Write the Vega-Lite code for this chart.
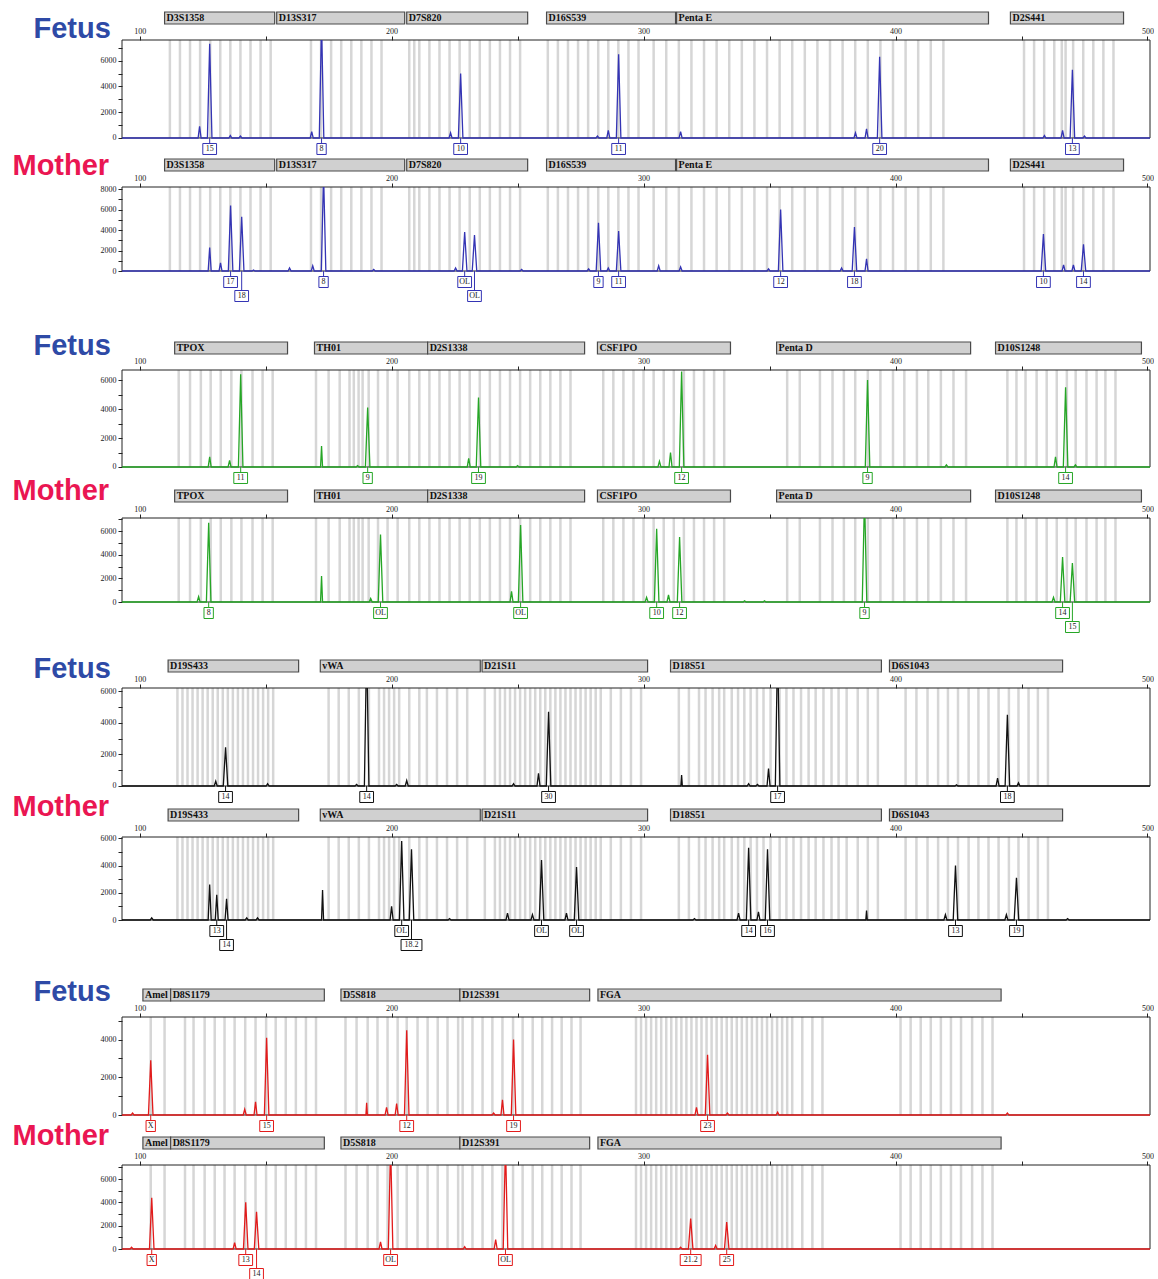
{
  "$schema": "https://vega.github.io/schema/vega-lite/v6.json",
  "background": "white",
  "padding": {"left": 12, "top": 11, "right": 0, "bottom": 0},
  "config": {"view": {"stroke": null}, "axis": {"labelOverlap": false, "labelFlush": false}},
  "spacing": 16,
  "bounds": "flush",
  "datasets": {
    "loci": [
      {"d": "B", "n": "D3S1358", "a": 109.9, "b": 153.6},
      {"d": "B", "n": "D13S317", "a": 154.4, "b": 205.2},
      {"d": "B", "n": "D7S820", "a": 206, "b": 254},
      {"d": "B", "n": "D16S539", "a": 261.5, "b": 312.7},
      {"d": "B", "n": "Penta E", "a": 313.1, "b": 436.9},
      {"d": "B", "n": "D2S441", "a": 445.6, "b": 490.5},
      {"d": "G", "n": "TPOX", "a": 113.9, "b": 158.7},
      {"d": "G", "n": "TH01", "a": 169.4, "b": 214.3},
      {"d": "G", "n": "D2S1338", "a": 214.3, "b": 276.6},
      {"d": "G", "n": "CSF1PO", "a": 281.7, "b": 334.5},
      {"d": "G", "n": "Penta D", "a": 352.8, "b": 429.8},
      {"d": "G", "n": "D10S1248", "a": 439.7, "b": 497.6},
      {"d": "K", "n": "D19S433", "a": 111.3, "b": 163.1},
      {"d": "K", "n": "vWA", "a": 171.7, "b": 235.2},
      {"d": "K", "n": "D21S11", "a": 235.9, "b": 301.6},
      {"d": "K", "n": "D18S51", "a": 310.7, "b": 394.4},
      {"d": "K", "n": "D6S1043", "a": 397.6, "b": 466.3},
      {"d": "R", "n": "Amel", "a": 101.3, "b": 112.3},
      {"d": "R", "n": "D8S1179", "a": 112.3, "b": 173.3},
      {"d": "R", "n": "D5S818", "a": 179.9, "b": 227.1},
      {"d": "R", "n": "D12S391", "a": 227.1, "b": 278.6},
      {"d": "R", "n": "FGA", "a": 281.9, "b": 441.9}
    ],
    "bins": [
      {"d":"B","x":112},{"d":"B","x":116},{"d":"B","x":120},{"d":"B","x":124},{"d":"B","x":128},{"d":"B","x":132},{"d":"B","x":136},{"d":"B","x":140},{"d":"B","x":144},{"d":"B","x":148},{"d":"B","x":152},
      {"d":"B","x":168},{"d":"B","x":172},{"d":"B","x":176},{"d":"B","x":180},{"d":"B","x":184},{"d":"B","x":188},{"d":"B","x":192},{"d":"B","x":196},
      {"d":"B","x":207},{"d":"B","x":209},{"d":"B","x":211},{"d":"B","x":215},{"d":"B","x":219},{"d":"B","x":223},{"d":"B","x":227},{"d":"B","x":231},{"d":"B","x":235},{"d":"B","x":239},{"d":"B","x":243},{"d":"B","x":247},{"d":"B","x":251},
      {"d":"B","x":262},{"d":"B","x":266},{"d":"B","x":270},{"d":"B","x":274},{"d":"B","x":278},{"d":"B","x":282},{"d":"B","x":286},{"d":"B","x":290},{"d":"B","x":294},{"d":"B","x":298},
      {"d":"B","x":304},{"d":"B","x":309},{"d":"B","x":314},{"d":"B","x":319},{"d":"B","x":324},{"d":"B","x":329},{"d":"B","x":334},{"d":"B","x":339},{"d":"B","x":344},{"d":"B","x":349},{"d":"B","x":354},{"d":"B","x":359},{"d":"B","x":364},{"d":"B","x":369},{"d":"B","x":374},{"d":"B","x":379},{"d":"B","x":384},{"d":"B","x":389},{"d":"B","x":394},{"d":"B","x":399},{"d":"B","x":404},{"d":"B","x":409},{"d":"B","x":414},{"d":"B","x":419},
      {"d":"B","x":451},{"d":"B","x":455},{"d":"B","x":459},{"d":"B","x":463},{"d":"B","x":466},{"d":"B","x":467.5},{"d":"B","x":470.5},{"d":"B","x":474.5},{"d":"B","x":478.5},{"d":"B","x":482.5},{"d":"B","x":486.5},
      {"d":"G","x":115.5},{"d":"G","x":120},{"d":"G","x":124.3},{"d":"G","x":128.2},{"d":"G","x":132.2},{"d":"G","x":136.4},{"d":"G","x":140.4},{"d":"G","x":144.8},{"d":"G","x":148.8},{"d":"G","x":152.8},
      {"d":"G","x":170},{"d":"G","x":175},{"d":"G","x":179.4},{"d":"G","x":183.3},{"d":"G","x":185},{"d":"G","x":186.9},{"d":"G","x":188.5},{"d":"G","x":190.9},{"d":"G","x":194.6},{"d":"G","x":198.4},{"d":"G","x":202.4},
      {"d":"G","x":207},{"d":"G","x":211},{"d":"G","x":215},{"d":"G","x":219},{"d":"G","x":223},{"d":"G","x":227},{"d":"G","x":231},{"d":"G","x":235},{"d":"G","x":239},{"d":"G","x":243},{"d":"G","x":247},{"d":"G","x":251},{"d":"G","x":255},{"d":"G","x":259},{"d":"G","x":263},{"d":"G","x":267},{"d":"G","x":271},
      {"d":"G","x":284},{"d":"G","x":288},{"d":"G","x":292},{"d":"G","x":296},{"d":"G","x":300},{"d":"G","x":304},{"d":"G","x":308},{"d":"G","x":312},{"d":"G","x":316},{"d":"G","x":320},{"d":"G","x":324},{"d":"G","x":328},{"d":"G","x":332},
      {"d":"G","x":357},{"d":"G","x":362},{"d":"G","x":370},{"d":"G","x":375},{"d":"G","x":379.5},{"d":"G","x":384},{"d":"G","x":389},{"d":"G","x":394},{"d":"G","x":399},{"d":"G","x":403.5},{"d":"G","x":408.5},{"d":"G","x":413},{"d":"G","x":418},{"d":"G","x":423},{"d":"G","x":428},
      {"d":"G","x":444.4},{"d":"G","x":448},{"d":"G","x":451.6},{"d":"G","x":456},{"d":"G","x":460},{"d":"G","x":464},{"d":"G","x":468},{"d":"G","x":471.5},{"d":"G","x":475.8},{"d":"G","x":479.8},{"d":"G","x":483.3},{"d":"G","x":487.3},
      {"d":"K","x":115},{"d":"K","x":117},{"d":"K","x":119},{"d":"K","x":121},{"d":"K","x":123},{"d":"K","x":125},{"d":"K","x":127},{"d":"K","x":129},{"d":"K","x":131},{"d":"K","x":133},{"d":"K","x":135},{"d":"K","x":137},{"d":"K","x":139},{"d":"K","x":141},{"d":"K","x":143},{"d":"K","x":145},{"d":"K","x":147},{"d":"K","x":149},{"d":"K","x":151},{"d":"K","x":153},
      {"d":"K","x":175},{"d":"K","x":179},{"d":"K","x":183},{"d":"K","x":187},{"d":"K","x":191},{"d":"K","x":195},{"d":"K","x":197},{"d":"K","x":199},{"d":"K","x":201},{"d":"K","x":203},{"d":"K","x":207},{"d":"K","x":211},{"d":"K","x":214},{"d":"K","x":218},{"d":"K","x":222},{"d":"K","x":226},{"d":"K","x":230},
      {"d":"K","x":237},{"d":"K","x":241},{"d":"K","x":243},{"d":"K","x":245},{"d":"K","x":247},{"d":"K","x":249},{"d":"K","x":251},{"d":"K","x":253},{"d":"K","x":255},{"d":"K","x":257},{"d":"K","x":259},{"d":"K","x":261},{"d":"K","x":263},{"d":"K","x":265},{"d":"K","x":267},{"d":"K","x":269},{"d":"K","x":271},{"d":"K","x":273},{"d":"K","x":275},{"d":"K","x":277},{"d":"K","x":279},{"d":"K","x":281},{"d":"K","x":283},{"d":"K","x":287},{"d":"K","x":291},{"d":"K","x":295},{"d":"K","x":299},
      {"d":"K","x":314},{"d":"K","x":318},{"d":"K","x":322},{"d":"K","x":324.6},{"d":"K","x":327.4},{"d":"K","x":330},{"d":"K","x":332},{"d":"K","x":335},{"d":"K","x":337.5},{"d":"K","x":340},{"d":"K","x":342.5},{"d":"K","x":345},{"d":"K","x":347.6},{"d":"K","x":350.4},{"d":"K","x":354},{"d":"K","x":356.7},{"d":"K","x":359.5},{"d":"K","x":362.5},{"d":"K","x":365.5},{"d":"K","x":368.3},{"d":"K","x":371.4},{"d":"K","x":374.6},{"d":"K","x":377.4},{"d":"K","x":380.6},{"d":"K","x":385},{"d":"K","x":389},{"d":"K","x":393},
      {"d":"K","x":404},{"d":"K","x":408.3},{"d":"K","x":412.7},{"d":"K","x":416.9},{"d":"K","x":420.8},{"d":"K","x":424.8},{"d":"K","x":429},{"d":"K","x":432.9},{"d":"K","x":436.9},{"d":"K","x":440.9},{"d":"K","x":445},{"d":"K","x":448.8},{"d":"K","x":452.8},{"d":"K","x":456.5},{"d":"K","x":460.5},
      {"d":"R","x":104.4},{"d":"R","x":109.9},
      {"d":"R","x":118},{"d":"R","x":121.4},{"d":"R","x":125.8},{"d":"R","x":129.8},{"d":"R","x":133.7},{"d":"R","x":137.7},{"d":"R","x":141.9},{"d":"R","x":146},{"d":"R","x":150.2},{"d":"R","x":154},{"d":"R","x":158},{"d":"R","x":162},{"d":"R","x":166},{"d":"R","x":170},
      {"d":"R","x":181.7},{"d":"R","x":186.1},{"d":"R","x":190.5},{"d":"R","x":194.4},{"d":"R","x":198.4},{"d":"R","x":202.4},{"d":"R","x":206},{"d":"R","x":210.3},{"d":"R","x":214.3},{"d":"R","x":218.3},{"d":"R","x":222.2},{"d":"R","x":226.4},
      {"d":"R","x":228.2},{"d":"R","x":232.1},{"d":"R","x":236.1},{"d":"R","x":240},{"d":"R","x":244},{"d":"R","x":248.2},{"d":"R","x":252},{"d":"R","x":256},{"d":"R","x":259.8},{"d":"R","x":263.7},{"d":"R","x":267.5},{"d":"R","x":271.4},{"d":"R","x":275},
      {"d":"R","x":297},{"d":"R","x":299},{"d":"R","x":301},{"d":"R","x":303},{"d":"R","x":305},{"d":"R","x":307},{"d":"R","x":309},{"d":"R","x":311},{"d":"R","x":313},{"d":"R","x":315},{"d":"R","x":317},{"d":"R","x":319},{"d":"R","x":321},{"d":"R","x":323},{"d":"R","x":325},{"d":"R","x":327},{"d":"R","x":329},{"d":"R","x":331},{"d":"R","x":333},{"d":"R","x":335},{"d":"R","x":337},{"d":"R","x":339},{"d":"R","x":341},{"d":"R","x":343},{"d":"R","x":345},{"d":"R","x":347},{"d":"R","x":349},{"d":"R","x":351},{"d":"R","x":353},{"d":"R","x":355},{"d":"R","x":357},{"d":"R","x":359},{"d":"R","x":363},{"d":"R","x":367},{"d":"R","x":371},
      {"d":"R","x":402},{"d":"R","x":406},{"d":"R","x":410},{"d":"R","x":414},{"d":"R","x":418},{"d":"R","x":422},{"d":"R","x":426},{"d":"R","x":430.4},{"d":"R","x":434.5},{"d":"R","x":438.5}
    ],
    "t1": [
      {"x":93,"y":0},
      {"x":123.2,"y":0},{"x":123.8,"y":900},{"x":124.4,"y":0},
      {"x":126.9,"y":0},{"x":127.8,"y":7300},{"x":128.7,"y":0},
      {"x":135.4,"y":0},{"x":136,"y":200},{"x":136.6,"y":0},
      {"x":139.4,"y":0},{"x":140,"y":150},{"x":140.6,"y":0},
      {"x":167.7,"y":0},{"x":168.3,"y":500},{"x":168.9,"y":0},
      {"x":171.3,"y":0},{"x":172.2,"y":9000},{"x":173.1,"y":0},
      {"x":222.8,"y":0},{"x":223.4,"y":400},{"x":224,"y":0},
      {"x":226.5,"y":0},{"x":227.4,"y":5000},{"x":228.3,"y":0},
      {"x":281.1,"y":0},{"x":281.7,"y":150},{"x":282.3,"y":0},
      {"x":285.4,"y":0},{"x":286,"y":600},{"x":286.6,"y":0},
      {"x":289.2,"y":0},{"x":290.1,"y":6500},{"x":291,"y":0},
      {"x":314.1,"y":0},{"x":314.7,"y":500},{"x":315.3,"y":0},
      {"x":383.5,"y":0},{"x":384.1,"y":400},{"x":384.7,"y":0},
      {"x":387.9,"y":0},{"x":388.5,"y":700},{"x":389.1,"y":0},
      {"x":392.8,"y":0},{"x":393.7,"y":6300},{"x":394.6,"y":0},
      {"x":458.5,"y":0},{"x":459.1,"y":200},{"x":459.7,"y":0},
      {"x":465.7,"y":0},{"x":466.3,"y":600},{"x":466.9,"y":0},
      {"x":469.3,"y":0},{"x":470.2,"y":5300},{"x":471.1,"y":0},
      {"x":474.4,"y":0},{"x":475,"y":150},{"x":475.6,"y":0},
      {"x":501,"y":0}
    ],
    "t2": [
      {"x":93,"y":0},
      {"x":127.2,"y":0},{"x":127.8,"y":2300},{"x":128.4,"y":0},
      {"x":131.5,"y":0},{"x":132.1,"y":800},{"x":132.7,"y":0},
      {"x":135.2,"y":0},{"x":136.1,"y":6400},{"x":137,"y":0},
      {"x":139.6,"y":0},{"x":140.5,"y":5300},{"x":141.4,"y":0},
      {"x":144.6,"y":0},{"x":145.2,"y":100},{"x":145.8,"y":0},
      {"x":158.9,"y":0},{"x":159.5,"y":300},{"x":160.1,"y":0},
      {"x":168.1,"y":0},{"x":168.7,"y":500},{"x":169.3,"y":0},
      {"x":172.1,"y":0},{"x":173,"y":9500},{"x":173.9,"y":0},
      {"x":192.3,"y":0},{"x":192.9,"y":150},{"x":193.5,"y":0},
      {"x":224.8,"y":0},{"x":225.4,"y":300},{"x":226,"y":0},
      {"x":228.1,"y":0},{"x":229,"y":3800},{"x":229.9,"y":0},
      {"x":232,"y":0},{"x":232.9,"y":3500},{"x":233.8,"y":0},
      {"x":251,"y":0},{"x":251.6,"y":150},{"x":252.2,"y":0},
      {"x":277.6,"y":0},{"x":278.2,"y":200},{"x":278.8,"y":0},
      {"x":281.2,"y":0},{"x":282.1,"y":4700},{"x":283,"y":0},
      {"x":285.4,"y":0},{"x":286,"y":300},{"x":286.6,"y":0},
      {"x":289.2,"y":0},{"x":290.1,"y":3900},{"x":291,"y":0},
      {"x":305.4,"y":0},{"x":306,"y":500},{"x":306.6,"y":0},
      {"x":314.1,"y":0},{"x":314.7,"y":400},{"x":315.3,"y":0},
      {"x":349,"y":0},{"x":349.6,"y":200},{"x":350.2,"y":0},
      {"x":353.5,"y":0},{"x":354.4,"y":6000},{"x":355.3,"y":0},
      {"x":378,"y":0},{"x":378.6,"y":300},{"x":379.2,"y":0},
      {"x":382.8,"y":0},{"x":383.7,"y":4300},{"x":384.6,"y":0},
      {"x":387.9,"y":0},{"x":388.5,"y":1200},{"x":389.1,"y":0},
      {"x":457.8,"y":0},{"x":458.7,"y":3600},{"x":459.6,"y":0},
      {"x":466.1,"y":0},{"x":466.7,"y":600},{"x":467.3,"y":0},
      {"x":470,"y":0},{"x":470.6,"y":600},{"x":471.2,"y":0},
      {"x":473.7,"y":0},{"x":474.6,"y":2600},{"x":475.5,"y":0},
      {"x":501,"y":0}
    ],
    "t3": [
      {"x":93,"y":0},
      {"x":127.2,"y":0},{"x":127.8,"y":700},{"x":128.4,"y":0},
      {"x":135.1,"y":0},{"x":135.7,"y":450},{"x":136.3,"y":0},
      {"x":139.2,"y":0},{"x":140.1,"y":6400},{"x":141,"y":0},
      {"x":171.8,"y":0},{"x":172.2,"y":1450},{"x":172.6,"y":0},
      {"x":185.9,"y":0},{"x":186.5,"y":100},{"x":187.1,"y":0},
      {"x":189.6,"y":0},{"x":190.5,"y":4100},{"x":191.4,"y":0},
      {"x":230,"y":0},{"x":230.6,"y":600},{"x":231.2,"y":0},
      {"x":233.6,"y":0},{"x":234.5,"y":4800},{"x":235.4,"y":0},
      {"x":249.4,"y":0},{"x":250,"y":100},{"x":250.6,"y":0},
      {"x":305.7,"y":0},{"x":306.3,"y":400},{"x":306.9,"y":0},
      {"x":310.1,"y":0},{"x":310.7,"y":1000},{"x":311.3,"y":0},
      {"x":314.2,"y":0},{"x":315.1,"y":6600},{"x":316,"y":0},
      {"x":388,"y":0},{"x":388.9,"y":6000},{"x":389.8,"y":0},
      {"x":419.6,"y":0},{"x":420.2,"y":150},{"x":420.8,"y":0},
      {"x":462.9,"y":0},{"x":463.5,"y":700},{"x":464.1,"y":0},
      {"x":466.6,"y":0},{"x":467.5,"y":5500},{"x":468.4,"y":0},
      {"x":470.8,"y":0},{"x":471.4,"y":150},{"x":472,"y":0},
      {"x":501,"y":0}
    ],
    "t4": [
      {"x":93,"y":0},
      {"x":122.8,"y":0},{"x":123.4,"y":450},{"x":124,"y":0},
      {"x":126.5,"y":0},{"x":127.4,"y":6700},{"x":128.3,"y":0},
      {"x":171.8,"y":0},{"x":172.2,"y":2200},{"x":172.6,"y":0},
      {"x":191.1,"y":0},{"x":191.7,"y":300},{"x":192.3,"y":0},
      {"x":194.7,"y":0},{"x":195.6,"y":5700},{"x":196.5,"y":0},
      {"x":247,"y":0},{"x":247.6,"y":900},{"x":248.2,"y":0},
      {"x":250.3,"y":0},{"x":251.2,"y":6500},{"x":252.1,"y":0},
      {"x":300.6,"y":0},{"x":301.2,"y":400},{"x":301.8,"y":0},
      {"x":304.3,"y":0},{"x":305.2,"y":6200},{"x":306.1,"y":0},
      {"x":309.3,"y":0},{"x":309.9,"y":600},{"x":310.5,"y":0},
      {"x":313.4,"y":0},{"x":314.3,"y":5500},{"x":315.2,"y":0},
      {"x":339.5,"y":0},{"x":340.1,"y":100},{"x":340.7,"y":0},
      {"x":347.4,"y":0},{"x":348,"y":100},{"x":348.6,"y":0},
      {"x":386.8,"y":0},{"x":387.7,"y":9000},{"x":388.6,"y":0},
      {"x":462.1,"y":0},{"x":462.7,"y":400},{"x":463.3,"y":0},
      {"x":465.4,"y":0},{"x":466.3,"y":3800},{"x":467.2,"y":0},
      {"x":469.3,"y":0},{"x":470.2,"y":3300},{"x":471.1,"y":0},
      {"x":501,"y":0}
    ],
    "t5": [
      {"x":93,"y":0},
      {"x":129.6,"y":0},{"x":130.2,"y":300},{"x":130.8,"y":0},
      {"x":133.2,"y":0},{"x":134.1,"y":2450},{"x":135,"y":0},
      {"x":150.2,"y":0},{"x":150.8,"y":150},{"x":151.4,"y":0},
      {"x":185.5,"y":0},{"x":186.1,"y":100},{"x":186.7,"y":0},
      {"x":189.2,"y":0},{"x":190.1,"y":9000},{"x":191,"y":0},
      {"x":201.4,"y":0},{"x":202,"y":100},{"x":202.6,"y":0},
      {"x":205.4,"y":0},{"x":206,"y":350},{"x":206.6,"y":0},
      {"x":247.8,"y":0},{"x":248.4,"y":150},{"x":249,"y":0},
      {"x":257.7,"y":0},{"x":258.3,"y":800},{"x":258.9,"y":0},
      {"x":261.4,"y":0},{"x":262.3,"y":4700},{"x":263.2,"y":0},
      {"x":314.8,"y":0},{"x":315.1,"y":700},{"x":315.4,"y":0},
      {"x":341.1,"y":0},{"x":341.7,"y":150},{"x":342.3,"y":0},
      {"x":344.6,"y":0},{"x":345.2,"y":100},{"x":345.8,"y":0},
      {"x":349,"y":0},{"x":349.6,"y":1100},{"x":350.2,"y":0},
      {"x":352.3,"y":0},{"x":353.2,"y":9000},{"x":354.1,"y":0},
      {"x":423.6,"y":0},{"x":424.2,"y":80},{"x":424.8,"y":0},
      {"x":439.9,"y":0},{"x":440.5,"y":500},{"x":441.1,"y":0},
      {"x":443.5,"y":0},{"x":444.4,"y":4500},{"x":445.3,"y":0},
      {"x":448.2,"y":0},{"x":448.8,"y":200},{"x":449.4,"y":0},
      {"x":501,"y":0}
    ],
    "t6": [
      {"x":93,"y":0},
      {"x":104.2,"y":0},{"x":104.8,"y":150},{"x":105.4,"y":0},
      {"x":127.2,"y":0},{"x":127.8,"y":2600},{"x":128.4,"y":0},
      {"x":130,"y":0},{"x":130.6,"y":1850},{"x":131.2,"y":0},
      {"x":133.9,"y":0},{"x":134.5,"y":1550},{"x":135.1,"y":0},
      {"x":141.9,"y":0},{"x":142.5,"y":150},{"x":143.1,"y":0},
      {"x":146.2,"y":0},{"x":146.8,"y":150},{"x":147.4,"y":0},
      {"x":172.2,"y":0},{"x":172.6,"y":2200},{"x":173,"y":0},
      {"x":199.4,"y":0},{"x":200,"y":1000},{"x":200.6,"y":0},
      {"x":203.1,"y":0},{"x":204,"y":5800},{"x":204.9,"y":0},
      {"x":207,"y":0},{"x":207.9,"y":5200},{"x":208.8,"y":0},
      {"x":222.4,"y":0},{"x":223,"y":100},{"x":223.6,"y":0},
      {"x":245.4,"y":0},{"x":246,"y":500},{"x":246.6,"y":0},
      {"x":255.3,"y":0},{"x":255.9,"y":400},{"x":256.5,"y":0},
      {"x":258.6,"y":0},{"x":259.5,"y":4400},{"x":260.4,"y":0},
      {"x":268.8,"y":0},{"x":269.4,"y":500},{"x":270,"y":0},
      {"x":272.5,"y":0},{"x":273.4,"y":3900},{"x":274.3,"y":0},
      {"x":319.6,"y":0},{"x":320.2,"y":100},{"x":320.8,"y":0},
      {"x":337.1,"y":0},{"x":337.7,"y":500},{"x":338.3,"y":0},
      {"x":340.8,"y":0},{"x":341.7,"y":5300},{"x":342.6,"y":0},
      {"x":345,"y":0},{"x":345.6,"y":600},{"x":346.2,"y":0},
      {"x":348.3,"y":0},{"x":349.2,"y":5200},{"x":350.1,"y":0},
      {"x":388.2,"y":0},{"x":388.5,"y":700},{"x":388.8,"y":0},
      {"x":419.2,"y":0},{"x":419.8,"y":400},{"x":420.4,"y":0},
      {"x":422.9,"y":0},{"x":423.8,"y":4000},{"x":424.7,"y":0},
      {"x":443.4,"y":0},{"x":444,"y":400},{"x":444.6,"y":0},
      {"x":447.1,"y":0},{"x":448,"y":3100},{"x":448.9,"y":0},
      {"x":467.7,"y":0},{"x":468.3,"y":100},{"x":468.9,"y":0},
      {"x":501,"y":0}
    ],
    "t7": [
      {"x":93,"y":0},
      {"x":96.6,"y":0},{"x":97.2,"y":100},{"x":97.8,"y":0},
      {"x":103.5,"y":0},{"x":104.4,"y":2900},{"x":105.3,"y":0},
      {"x":141.1,"y":0},{"x":141.7,"y":300},{"x":142.3,"y":0},
      {"x":145.4,"y":0},{"x":146,"y":700},{"x":146.6,"y":0},
      {"x":149.5,"y":0},{"x":150.4,"y":4100},{"x":151.3,"y":0},
      {"x":189.8,"y":0},{"x":190.1,"y":650},{"x":190.4,"y":0},
      {"x":197.4,"y":0},{"x":198,"y":400},{"x":198.6,"y":0},
      {"x":201.4,"y":0},{"x":202,"y":600},{"x":202.6,"y":0},
      {"x":205.1,"y":0},{"x":206,"y":4500},{"x":206.9,"y":0},
      {"x":239.9,"y":0},{"x":240.5,"y":100},{"x":241.1,"y":0},
      {"x":243.4,"y":0},{"x":244,"y":800},{"x":244.6,"y":0},
      {"x":247.5,"y":0},{"x":248.4,"y":4000},{"x":249.3,"y":0},
      {"x":320.4,"y":0},{"x":321,"y":400},{"x":321.6,"y":0},
      {"x":324.5,"y":0},{"x":325.4,"y":3200},{"x":326.3,"y":0},
      {"x":332.7,"y":0},{"x":333.3,"y":100},{"x":333.9,"y":0},
      {"x":352.6,"y":0},{"x":353.2,"y":150},{"x":353.8,"y":0},
      {"x":443.8,"y":0},{"x":444.4,"y":100},{"x":445,"y":0},
      {"x":501,"y":0}
    ],
    "t8": [
      {"x":93,"y":0},
      {"x":96.2,"y":0},{"x":96.8,"y":150},{"x":97.4,"y":0},
      {"x":103.9,"y":0},{"x":104.8,"y":4400},{"x":105.7,"y":0},
      {"x":137.1,"y":0},{"x":137.7,"y":550},{"x":138.3,"y":0},
      {"x":141.2,"y":0},{"x":142.1,"y":4000},{"x":143,"y":0},
      {"x":145.5,"y":0},{"x":146.4,"y":3200},{"x":147.3,"y":0},
      {"x":195,"y":0},{"x":195.6,"y":600},{"x":196.2,"y":0},
      {"x":198.7,"y":0},{"x":199.6,"y":9000},{"x":200.5,"y":0},
      {"x":228.4,"y":0},{"x":229,"y":200},{"x":229.6,"y":0},
      {"x":240.7,"y":0},{"x":241.3,"y":800},{"x":241.9,"y":0},
      {"x":244.3,"y":0},{"x":245.2,"y":9000},{"x":246.1,"y":0},
      {"x":314.1,"y":0},{"x":314.7,"y":150},{"x":315.3,"y":0},
      {"x":317.8,"y":0},{"x":318.7,"y":2600},{"x":319.6,"y":0},
      {"x":328,"y":0},{"x":328.6,"y":300},{"x":329.2,"y":0},
      {"x":332.1,"y":0},{"x":333,"y":2300},{"x":333.9,"y":0},
      {"x":501,"y":0}
    ],
    "a1": [
      {"x":127.8,"a":"15","r":1},{"x":172.2,"a":"8","r":1},{"x":227.4,"a":"10","r":1},
      {"x":290.1,"a":"11","r":1},{"x":393.7,"a":"20","r":1},{"x":470.2,"a":"13","r":1}
    ],
    "a2": [
      {"x":136.1,"a":"17","r":1},{"x":140.5,"a":"18","r":2},{"x":173,"a":"8","r":1},
      {"x":229,"a":"OL","r":1},{"x":232.9,"a":"OL","r":2},{"x":282.1,"a":"9","r":1},
      {"x":290.1,"a":"11","r":1},{"x":354.4,"a":"12","r":1},{"x":383.7,"a":"18","r":1},
      {"x":458.7,"a":"10","r":1},{"x":474.6,"a":"14","r":1}
    ],
    "a3": [
      {"x":140.1,"a":"11","r":1},{"x":190.5,"a":"9","r":1},{"x":234.5,"a":"19","r":1},
      {"x":315.1,"a":"12","r":1},{"x":388.9,"a":"9","r":1},{"x":467.5,"a":"14","r":1}
    ],
    "a4": [
      {"x":127.4,"a":"8","r":1},{"x":195.6,"a":"OL","r":1},{"x":251.2,"a":"OL","r":1},
      {"x":305.2,"a":"10","r":1},{"x":314.3,"a":"12","r":1},{"x":387.7,"a":"9","r":1},
      {"x":466.3,"a":"14","r":1},{"x":470.2,"a":"15","r":2}
    ],
    "a5": [
      {"x":134.1,"a":"14","r":1},{"x":190.1,"a":"14","r":1},{"x":262.3,"a":"30","r":1},
      {"x":353.2,"a":"17","r":1},{"x":444.4,"a":"18","r":1}
    ],
    "a6": [
      {"x":130.6,"a":"13","r":1},{"x":134.5,"a":"14","r":2},{"x":204,"a":"OL","r":1},
      {"x":207.9,"a":"18.2","r":2},{"x":259.5,"a":"OL","r":1},{"x":273.4,"a":"OL","r":1},
      {"x":341.7,"a":"14","r":1},{"x":349.2,"a":"16","r":1},{"x":423.8,"a":"13","r":1},
      {"x":448,"a":"19","r":1}
    ],
    "a7": [
      {"x":104.4,"a":"X","r":1},{"x":150.4,"a":"15","r":1},{"x":206,"a":"12","r":1},
      {"x":248.4,"a":"19","r":1},{"x":325.4,"a":"23","r":1}
    ],
    "a8": [
      {"x":104.8,"a":"X","r":1},{"x":142.1,"a":"13","r":1},{"x":146.4,"a":"14","r":2},
      {"x":199.6,"a":"OL","r":1},{"x":245.2,"a":"OL","r":1},{"x":318.7,"a":"21.2","r":1},
      {"x":333,"a":"25","r":1}
    ]
  },
  "vconcat": [
    {"width": 1028, "height": 12, "data": {"name": "loci"}, "transform": [{"filter": "datum.d == 'B'"}],
     "layer": [
      {"mark": {"type": "rect", "fill": "#d0d0d0", "stroke": "#4a4a4a", "strokeWidth": 1.2},
       "encoding": {"x": {"field": "a", "type": "quantitative", "scale": {"domain": [93, 501]}, "axis": null}, "x2": {"field": "b"}}},
      {"mark": {"type": "text", "align": "left", "baseline": "middle", "dx": 2, "font": "Liberation Serif", "fontSize": 10, "fontWeight": "bold", "color": "#111"},
       "encoding": {"x": {"field": "a", "type": "quantitative", "scale": {"domain": [93, 501]}, "axis": null}, "text": {"field": "n"}}}
     ]},
    {"width": 1028, "height": 103,
     "layer": [
      {"data": {"name": "bins"}, "transform": [{"filter": "datum.d == 'B'"}],
       "mark": {"type": "rule", "color": "#d6d6d6", "strokeWidth": 2.5},
       "encoding": {
        "x": {"field": "x", "type": "quantitative", "scale": {"domain": [93, 501]},
              "axis": {"orient": "top", "values": [100,150,200,250,300,350,400,450,500], "tickCount": 20, "labelExpr": "datum.value % 100 ? '' : datum.label", "title": null, "grid": false, "domain": false, "tickSize": 4, "tickColor": "#222", "labelFont": "Liberation Serif", "labelFontSize": 8, "labelColor": "#222", "labelPadding": 1, "labelFlush": false, "labelOverlap": false}},
        "y": {"datum": 0, "type": "quantitative", "scale": {"domain": [-388, 7600]},
              "axis": {"values": [0,1000,2000,3000,4000,5000,6000,7000], "tickCount": 20, "format": "d", "labelExpr": "datum.value % 2000 ? '' : datum.label", "grid": false, "domain": false, "tickSize": 4, "tickColor": "#222", "labelFont": "Liberation Serif", "labelFontSize": 8, "labelColor": "#222", "labelPadding": 2, "labelOverlap": false,
                       "title": "Fetus", "titleAngle": 0, "titleAlign": "left", "titleBaseline": "middle", "titleX": -89, "titleY": -12, "titleFont": "Liberation Sans", "titleFontSize": 29, "titleFontWeight": "bold", "titleColor": "#2e4aa6"}},
        "y2": {"datum": 7600}}},
      {"data": {"values": [{}]},
       "mark": {"type": "rect", "filled": false, "color": "#222", "strokeWidth": 1},
       "encoding": {"x": {"datum": 93, "type": "quantitative", "scale": {"domain": [93, 501]}}, "x2": {"datum": 501},
                    "y": {"datum": 0, "type": "quantitative", "scale": {"domain": [-388, 7600]}}, "y2": {"datum": 7600}}},
      {"data": {"name": "t1"},
       "mark": {"type": "line", "color": "#3434b4", "strokeWidth": 1.3, "clip": true},
       "encoding": {"x": {"field": "x", "type": "quantitative", "scale": {"domain": [93, 501]}},
                    "y": {"field": "y", "type": "quantitative", "scale": {"domain": [-388, 7600]}}}},
      {"data": {"name": "a1"},
       "encoding": {"x": {"field": "x", "type": "quantitative", "scale": {"domain": [93, 501]}},
                    "y": {"datum": 0, "type": "quantitative", "scale": {"domain": [-388, 7600]}}},
       "layer": [
        {"transform": [{"filter": "datum.r == 1"}], "mark": {"type": "rule", "color": "#3434b4", "y2Offset": 5}, "encoding": {"y2": {"datum": 0}}},
        {"transform": [{"filter": "datum.r == 2"}], "mark": {"type": "rule", "color": "#3434b4", "y2Offset": 19}, "encoding": {"y2": {"datum": 0}}},
        {"transform": [{"filter": "datum.r == 1"}], "mark": {"type": "point", "yOffset": 11, "size": 121, "filled": true, "fill": "white", "stroke": "#3434b4", "strokeWidth": 1, "opacity": 1},
         "encoding": {"shape": {"condition": [{"test": "length(datum.a) == 1", "value": "M-0.85,-1H0.85V1H-0.85Z"}, {"test": "length(datum.a) > 2", "value": "M-1.9,-1H1.9V1H-1.9Z"}], "value": "M-1.25,-1H1.25V1H-1.25Z"}}},
        {"transform": [{"filter": "datum.r == 2"}], "mark": {"type": "point", "yOffset": 25, "size": 121, "filled": true, "fill": "white", "stroke": "#3434b4", "strokeWidth": 1, "opacity": 1},
         "encoding": {"shape": {"condition": [{"test": "length(datum.a) == 1", "value": "M-0.85,-1H0.85V1H-0.85Z"}, {"test": "length(datum.a) > 2", "value": "M-1.9,-1H1.9V1H-1.9Z"}], "value": "M-1.25,-1H1.25V1H-1.25Z"}}},
        {"transform": [{"filter": "datum.r == 1"}], "mark": {"type": "text", "dy": 11, "baseline": "middle", "font": "Liberation Serif", "fontSize": 8, "color": "#222"}, "encoding": {"text": {"field": "a"}}},
        {"transform": [{"filter": "datum.r == 2"}], "mark": {"type": "text", "dy": 25, "baseline": "middle", "font": "Liberation Serif", "fontSize": 8, "color": "#222"}, "encoding": {"text": {"field": "a"}}}
       ]}
     ]},
    {"width": 1028, "height": 12, "data": {"name": "loci"}, "transform": [{"filter": "datum.d == 'B'"}],
     "layer": [
      {"mark": {"type": "rect", "fill": "#d0d0d0", "stroke": "#4a4a4a", "strokeWidth": 1.2},
       "encoding": {"x": {"field": "a", "type": "quantitative", "scale": {"domain": [93, 501]}, "axis": null}, "x2": {"field": "b"}}},
      {"mark": {"type": "text", "align": "left", "baseline": "middle", "dx": 2, "font": "Liberation Serif", "fontSize": 10, "fontWeight": "bold", "color": "#111"},
       "encoding": {"x": {"field": "a", "type": "quantitative", "scale": {"domain": [93, 501]}, "axis": null}, "text": {"field": "n"}}}
     ]},
    {"width": 1028, "height": 139,
     "layer": [
      {"data": {"name": "bins"}, "transform": [{"filter": "datum.d == 'B'"}],
       "mark": {"type": "rule", "color": "#d6d6d6", "strokeWidth": 2.5},
       "encoding": {
        "x": {"field": "x", "type": "quantitative", "scale": {"domain": [93, 501]},
              "axis": {"orient": "top", "values": [100,150,200,250,300,350,400,450,500], "tickCount": 20, "labelExpr": "datum.value % 100 ? '' : datum.label", "title": null, "grid": false, "domain": false, "tickSize": 4, "tickColor": "#222", "labelFont": "Liberation Serif", "labelFontSize": 8, "labelColor": "#222", "labelPadding": 1, "labelFlush": false, "labelOverlap": false}},
        "y": {"datum": 0, "type": "quantitative", "scale": {"domain": [-5369, 8200]},
              "axis": {"values": [0,1000,2000,3000,4000,5000,6000,7000,8000], "tickCount": 20, "format": "d", "labelExpr": "datum.value % 2000 ? '' : datum.label", "grid": false, "domain": false, "tickSize": 4, "tickColor": "#222", "labelFont": "Liberation Serif", "labelFontSize": 8, "labelColor": "#222", "labelPadding": 2, "labelOverlap": false,
                       "title": "Mother", "titleAngle": 0, "titleAlign": "left", "titleBaseline": "middle", "titleX": -110, "titleY": -22, "titleFont": "Liberation Sans", "titleFontSize": 29, "titleFontWeight": "bold", "titleColor": "#ea1652"}},
        "y2": {"datum": 8200}}},
      {"data": {"values": [{}]},
       "mark": {"type": "rect", "filled": false, "color": "#222", "strokeWidth": 1},
       "encoding": {"x": {"datum": 93, "type": "quantitative", "scale": {"domain": [93, 501]}}, "x2": {"datum": 501},
                    "y": {"datum": 0, "type": "quantitative", "scale": {"domain": [-5369, 8200]}}, "y2": {"datum": 8200}}},
      {"data": {"name": "t2"},
       "mark": {"type": "line", "color": "#3434b4", "strokeWidth": 1.3, "clip": true},
       "encoding": {"x": {"field": "x", "type": "quantitative", "scale": {"domain": [93, 501]}},
                    "y": {"field": "y", "type": "quantitative", "scale": {"domain": [-5369, 8200]}}}},
      {"data": {"name": "a2"},
       "encoding": {"x": {"field": "x", "type": "quantitative", "scale": {"domain": [93, 501]}},
                    "y": {"datum": 0, "type": "quantitative", "scale": {"domain": [-5369, 8200]}}},
       "layer": [
        {"transform": [{"filter": "datum.r == 1"}], "mark": {"type": "rule", "color": "#3434b4", "y2Offset": 5}, "encoding": {"y2": {"datum": 0}}},
        {"transform": [{"filter": "datum.r == 2"}], "mark": {"type": "rule", "color": "#3434b4", "y2Offset": 19}, "encoding": {"y2": {"datum": 0}}},
        {"transform": [{"filter": "datum.r == 1"}], "mark": {"type": "point", "yOffset": 11, "size": 121, "filled": true, "fill": "white", "stroke": "#3434b4", "strokeWidth": 1, "opacity": 1},
         "encoding": {"shape": {"condition": [{"test": "length(datum.a) == 1", "value": "M-0.85,-1H0.85V1H-0.85Z"}, {"test": "length(datum.a) > 2", "value": "M-1.9,-1H1.9V1H-1.9Z"}], "value": "M-1.25,-1H1.25V1H-1.25Z"}}},
        {"transform": [{"filter": "datum.r == 2"}], "mark": {"type": "point", "yOffset": 25, "size": 121, "filled": true, "fill": "white", "stroke": "#3434b4", "strokeWidth": 1, "opacity": 1},
         "encoding": {"shape": {"condition": [{"test": "length(datum.a) == 1", "value": "M-0.85,-1H0.85V1H-0.85Z"}, {"test": "length(datum.a) > 2", "value": "M-1.9,-1H1.9V1H-1.9Z"}], "value": "M-1.25,-1H1.25V1H-1.25Z"}}},
        {"transform": [{"filter": "datum.r == 1"}], "mark": {"type": "text", "dy": 11, "baseline": "middle", "font": "Liberation Serif", "fontSize": 8, "color": "#222"}, "encoding": {"text": {"field": "a"}}},
        {"transform": [{"filter": "datum.r == 2"}], "mark": {"type": "text", "dy": 25, "baseline": "middle", "font": "Liberation Serif", "fontSize": 8, "color": "#222"}, "encoding": {"text": {"field": "a"}}}
       ]}
     ]},
    {"width": 1028, "height": 12, "data": {"name": "loci"}, "transform": [{"filter": "datum.d == 'G'"}],
     "layer": [
      {"mark": {"type": "rect", "fill": "#d0d0d0", "stroke": "#4a4a4a", "strokeWidth": 1.2},
       "encoding": {"x": {"field": "a", "type": "quantitative", "scale": {"domain": [93, 501]}, "axis": null}, "x2": {"field": "b"}}},
      {"mark": {"type": "text", "align": "left", "baseline": "middle", "dx": 2, "font": "Liberation Serif", "fontSize": 10, "fontWeight": "bold", "color": "#111"},
       "encoding": {"x": {"field": "a", "type": "quantitative", "scale": {"domain": [93, 501]}, "axis": null}, "text": {"field": "n"}}}
     ]},
    {"width": 1028, "height": 104,
     "layer": [
      {"data": {"name": "bins"}, "transform": [{"filter": "datum.d == 'G'"}],
       "mark": {"type": "rule", "color": "#d6d6d6", "strokeWidth": 2.5},
       "encoding": {
        "x": {"field": "x", "type": "quantitative", "scale": {"domain": [93, 501]},
              "axis": {"orient": "top", "values": [100,150,200,250,300,350,400,450,500], "tickCount": 20, "labelExpr": "datum.value % 100 ? '' : datum.label", "title": null, "grid": false, "domain": false, "tickSize": 4, "tickColor": "#222", "labelFont": "Liberation Serif", "labelFontSize": 8, "labelColor": "#222", "labelPadding": 1, "labelFlush": false, "labelOverlap": false}},
        "y": {"datum": 0, "type": "quantitative", "scale": {"domain": [-484, 6700]},
              "axis": {"values": [0,1000,2000,3000,4000,5000,6000], "tickCount": 20, "format": "d", "labelExpr": "datum.value % 2000 ? '' : datum.label", "grid": false, "domain": false, "tickSize": 4, "tickColor": "#222", "labelFont": "Liberation Serif", "labelFontSize": 8, "labelColor": "#222", "labelPadding": 2, "labelOverlap": false,
                       "title": "Fetus", "titleAngle": 0, "titleAlign": "left", "titleBaseline": "middle", "titleX": -89, "titleY": -25, "titleFont": "Liberation Sans", "titleFontSize": 29, "titleFontWeight": "bold", "titleColor": "#2e4aa6"}},
        "y2": {"datum": 6700}}},
      {"data": {"values": [{}]},
       "mark": {"type": "rect", "filled": false, "color": "#222", "strokeWidth": 1},
       "encoding": {"x": {"datum": 93, "type": "quantitative", "scale": {"domain": [93, 501]}}, "x2": {"datum": 501},
                    "y": {"datum": 0, "type": "quantitative", "scale": {"domain": [-484, 6700]}}, "y2": {"datum": 6700}}},
      {"data": {"name": "t3"},
       "mark": {"type": "line", "color": "#26a626", "strokeWidth": 1.3, "clip": true},
       "encoding": {"x": {"field": "x", "type": "quantitative", "scale": {"domain": [93, 501]}},
                    "y": {"field": "y", "type": "quantitative", "scale": {"domain": [-484, 6700]}}}},
      {"data": {"name": "a3"},
       "encoding": {"x": {"field": "x", "type": "quantitative", "scale": {"domain": [93, 501]}},
                    "y": {"datum": 0, "type": "quantitative", "scale": {"domain": [-484, 6700]}}},
       "layer": [
        {"transform": [{"filter": "datum.r == 1"}], "mark": {"type": "rule", "color": "#26a626", "y2Offset": 5}, "encoding": {"y2": {"datum": 0}}},
        {"transform": [{"filter": "datum.r == 2"}], "mark": {"type": "rule", "color": "#26a626", "y2Offset": 19}, "encoding": {"y2": {"datum": 0}}},
        {"transform": [{"filter": "datum.r == 1"}], "mark": {"type": "point", "yOffset": 11, "size": 121, "filled": true, "fill": "white", "stroke": "#26a626", "strokeWidth": 1, "opacity": 1},
         "encoding": {"shape": {"condition": [{"test": "length(datum.a) == 1", "value": "M-0.85,-1H0.85V1H-0.85Z"}, {"test": "length(datum.a) > 2", "value": "M-1.9,-1H1.9V1H-1.9Z"}], "value": "M-1.25,-1H1.25V1H-1.25Z"}}},
        {"transform": [{"filter": "datum.r == 2"}], "mark": {"type": "point", "yOffset": 25, "size": 121, "filled": true, "fill": "white", "stroke": "#26a626", "strokeWidth": 1, "opacity": 1},
         "encoding": {"shape": {"condition": [{"test": "length(datum.a) == 1", "value": "M-0.85,-1H0.85V1H-0.85Z"}, {"test": "length(datum.a) > 2", "value": "M-1.9,-1H1.9V1H-1.9Z"}], "value": "M-1.25,-1H1.25V1H-1.25Z"}}},
        {"transform": [{"filter": "datum.r == 1"}], "mark": {"type": "text", "dy": 11, "baseline": "middle", "font": "Liberation Serif", "fontSize": 8, "color": "#222"}, "encoding": {"text": {"field": "a"}}},
        {"transform": [{"filter": "datum.r == 2"}], "mark": {"type": "text", "dy": 25, "baseline": "middle", "font": "Liberation Serif", "fontSize": 8, "color": "#222"}, "encoding": {"text": {"field": "a"}}}
       ]}
     ]},
    {"width": 1028, "height": 12, "data": {"name": "loci"}, "transform": [{"filter": "datum.d == 'G'"}],
     "layer": [
      {"mark": {"type": "rect", "fill": "#d0d0d0", "stroke": "#4a4a4a", "strokeWidth": 1.2},
       "encoding": {"x": {"field": "a", "type": "quantitative", "scale": {"domain": [93, 501]}, "axis": null}, "x2": {"field": "b"}}},
      {"mark": {"type": "text", "align": "left", "baseline": "middle", "dx": 2, "font": "Liberation Serif", "fontSize": 10, "fontWeight": "bold", "color": "#111"},
       "encoding": {"x": {"field": "a", "type": "quantitative", "scale": {"domain": [93, 501]}, "axis": null}, "text": {"field": "n"}}}
     ]},
    {"width": 1028, "height": 126,
     "layer": [
      {"data": {"name": "bins"}, "transform": [{"filter": "datum.d == 'G'"}],
       "mark": {"type": "rule", "color": "#d6d6d6", "strokeWidth": 2.5},
       "encoding": {
        "x": {"field": "x", "type": "quantitative", "scale": {"domain": [93, 501]},
              "axis": {"orient": "top", "values": [100,150,200,250,300,350,400,450,500], "tickCount": 20, "labelExpr": "datum.value % 100 ? '' : datum.label", "title": null, "grid": false, "domain": false, "tickSize": 4, "tickColor": "#222", "labelFont": "Liberation Serif", "labelFontSize": 8, "labelColor": "#222", "labelPadding": 1, "labelFlush": false, "labelOverlap": false}},
        "y": {"datum": 0, "type": "quantitative", "scale": {"domain": [-3550, 7100]},
              "axis": {"values": [0,1000,2000,3000,4000,5000,6000,7000], "tickCount": 20, "format": "d", "labelExpr": "datum.value % 2000 ? '' : datum.label", "grid": false, "domain": false, "tickSize": 4, "tickColor": "#222", "labelFont": "Liberation Serif", "labelFontSize": 8, "labelColor": "#222", "labelPadding": 2, "labelOverlap": false,
                       "title": "Mother", "titleAngle": 0, "titleAlign": "left", "titleBaseline": "middle", "titleX": -110, "titleY": -28, "titleFont": "Liberation Sans", "titleFontSize": 29, "titleFontWeight": "bold", "titleColor": "#ea1652"}},
        "y2": {"datum": 7100}}},
      {"data": {"values": [{}]},
       "mark": {"type": "rect", "filled": false, "color": "#222", "strokeWidth": 1},
       "encoding": {"x": {"datum": 93, "type": "quantitative", "scale": {"domain": [93, 501]}}, "x2": {"datum": 501},
                    "y": {"datum": 0, "type": "quantitative", "scale": {"domain": [-3550, 7100]}}, "y2": {"datum": 7100}}},
      {"data": {"name": "t4"},
       "mark": {"type": "line", "color": "#26a626", "strokeWidth": 1.3, "clip": true},
       "encoding": {"x": {"field": "x", "type": "quantitative", "scale": {"domain": [93, 501]}},
                    "y": {"field": "y", "type": "quantitative", "scale": {"domain": [-3550, 7100]}}}},
      {"data": {"name": "a4"},
       "encoding": {"x": {"field": "x", "type": "quantitative", "scale": {"domain": [93, 501]}},
                    "y": {"datum": 0, "type": "quantitative", "scale": {"domain": [-3550, 7100]}}},
       "layer": [
        {"transform": [{"filter": "datum.r == 1"}], "mark": {"type": "rule", "color": "#26a626", "y2Offset": 5}, "encoding": {"y2": {"datum": 0}}},
        {"transform": [{"filter": "datum.r == 2"}], "mark": {"type": "rule", "color": "#26a626", "y2Offset": 19}, "encoding": {"y2": {"datum": 0}}},
        {"transform": [{"filter": "datum.r == 1"}], "mark": {"type": "point", "yOffset": 11, "size": 121, "filled": true, "fill": "white", "stroke": "#26a626", "strokeWidth": 1, "opacity": 1},
         "encoding": {"shape": {"condition": [{"test": "length(datum.a) == 1", "value": "M-0.85,-1H0.85V1H-0.85Z"}, {"test": "length(datum.a) > 2", "value": "M-1.9,-1H1.9V1H-1.9Z"}], "value": "M-1.25,-1H1.25V1H-1.25Z"}}},
        {"transform": [{"filter": "datum.r == 2"}], "mark": {"type": "point", "yOffset": 25, "size": 121, "filled": true, "fill": "white", "stroke": "#26a626", "strokeWidth": 1, "opacity": 1},
         "encoding": {"shape": {"condition": [{"test": "length(datum.a) == 1", "value": "M-0.85,-1H0.85V1H-0.85Z"}, {"test": "length(datum.a) > 2", "value": "M-1.9,-1H1.9V1H-1.9Z"}], "value": "M-1.25,-1H1.25V1H-1.25Z"}}},
        {"transform": [{"filter": "datum.r == 1"}], "mark": {"type": "text", "dy": 11, "baseline": "middle", "font": "Liberation Serif", "fontSize": 8, "color": "#222"}, "encoding": {"text": {"field": "a"}}},
        {"transform": [{"filter": "datum.r == 2"}], "mark": {"type": "text", "dy": 25, "baseline": "middle", "font": "Liberation Serif", "fontSize": 8, "color": "#222"}, "encoding": {"text": {"field": "a"}}}
       ]}
     ]},
    {"width": 1028, "height": 12, "data": {"name": "loci"}, "transform": [{"filter": "datum.d == 'K'"}],
     "layer": [
      {"mark": {"type": "rect", "fill": "#d0d0d0", "stroke": "#4a4a4a", "strokeWidth": 1.2},
       "encoding": {"x": {"field": "a", "type": "quantitative", "scale": {"domain": [93, 501]}, "axis": null}, "x2": {"field": "b"}}},
      {"mark": {"type": "text", "align": "left", "baseline": "middle", "dx": 2, "font": "Liberation Serif", "fontSize": 10, "fontWeight": "bold", "color": "#111"},
       "encoding": {"x": {"field": "a", "type": "quantitative", "scale": {"domain": [93, 501]}, "axis": null}, "text": {"field": "n"}}}
     ]},
    {"width": 1028, "height": 105,
     "layer": [
      {"data": {"name": "bins"}, "transform": [{"filter": "datum.d == 'K'"}],
       "mark": {"type": "rule", "color": "#d6d6d6", "strokeWidth": 2.5},
       "encoding": {
        "x": {"field": "x", "type": "quantitative", "scale": {"domain": [93, 501]},
              "axis": {"orient": "top", "values": [100,150,200,250,300,350,400,450,500], "tickCount": 20, "labelExpr": "datum.value % 100 ? '' : datum.label", "title": null, "grid": false, "domain": false, "tickSize": 4, "tickColor": "#222", "labelFont": "Liberation Serif", "labelFontSize": 8, "labelColor": "#222", "labelPadding": 1, "labelFlush": false, "labelOverlap": false}},
        "y": {"datum": 0, "type": "quantitative", "scale": {"domain": [-443, 6200]},
              "axis": {"values": [0,1000,2000,3000,4000,5000,6000], "tickCount": 20, "format": "d", "labelExpr": "datum.value % 2000 ? '' : datum.label", "grid": false, "domain": false, "tickSize": 4, "tickColor": "#222", "labelFont": "Liberation Serif", "labelFontSize": 8, "labelColor": "#222", "labelPadding": 2, "labelOverlap": false,
                       "title": "Fetus", "titleAngle": 0, "titleAlign": "left", "titleBaseline": "middle", "titleX": -89, "titleY": -20, "titleFont": "Liberation Sans", "titleFontSize": 29, "titleFontWeight": "bold", "titleColor": "#2e4aa6"}},
        "y2": {"datum": 6200}}},
      {"data": {"values": [{}]},
       "mark": {"type": "rect", "filled": false, "color": "#222", "strokeWidth": 1},
       "encoding": {"x": {"datum": 93, "type": "quantitative", "scale": {"domain": [93, 501]}}, "x2": {"datum": 501},
                    "y": {"datum": 0, "type": "quantitative", "scale": {"domain": [-443, 6200]}}, "y2": {"datum": 6200}}},
      {"data": {"name": "t5"},
       "mark": {"type": "line", "color": "#111111", "strokeWidth": 1.3, "clip": true},
       "encoding": {"x": {"field": "x", "type": "quantitative", "scale": {"domain": [93, 501]}},
                    "y": {"field": "y", "type": "quantitative", "scale": {"domain": [-443, 6200]}}}},
      {"data": {"name": "a5"},
       "encoding": {"x": {"field": "x", "type": "quantitative", "scale": {"domain": [93, 501]}},
                    "y": {"datum": 0, "type": "quantitative", "scale": {"domain": [-443, 6200]}}},
       "layer": [
        {"transform": [{"filter": "datum.r == 1"}], "mark": {"type": "rule", "color": "#111111", "y2Offset": 5}, "encoding": {"y2": {"datum": 0}}},
        {"transform": [{"filter": "datum.r == 2"}], "mark": {"type": "rule", "color": "#111111", "y2Offset": 19}, "encoding": {"y2": {"datum": 0}}},
        {"transform": [{"filter": "datum.r == 1"}], "mark": {"type": "point", "yOffset": 11, "size": 121, "filled": true, "fill": "white", "stroke": "#111111", "strokeWidth": 1, "opacity": 1},
         "encoding": {"shape": {"condition": [{"test": "length(datum.a) == 1", "value": "M-0.85,-1H0.85V1H-0.85Z"}, {"test": "length(datum.a) > 2", "value": "M-1.9,-1H1.9V1H-1.9Z"}], "value": "M-1.25,-1H1.25V1H-1.25Z"}}},
        {"transform": [{"filter": "datum.r == 2"}], "mark": {"type": "point", "yOffset": 25, "size": 121, "filled": true, "fill": "white", "stroke": "#111111", "strokeWidth": 1, "opacity": 1},
         "encoding": {"shape": {"condition": [{"test": "length(datum.a) == 1", "value": "M-0.85,-1H0.85V1H-0.85Z"}, {"test": "length(datum.a) > 2", "value": "M-1.9,-1H1.9V1H-1.9Z"}], "value": "M-1.25,-1H1.25V1H-1.25Z"}}},
        {"transform": [{"filter": "datum.r == 1"}], "mark": {"type": "text", "dy": 11, "baseline": "middle", "font": "Liberation Serif", "fontSize": 8, "color": "#222"}, "encoding": {"text": {"field": "a"}}},
        {"transform": [{"filter": "datum.r == 2"}], "mark": {"type": "text", "dy": 25, "baseline": "middle", "font": "Liberation Serif", "fontSize": 8, "color": "#222"}, "encoding": {"text": {"field": "a"}}}
       ]}
     ]},
    {"width": 1028, "height": 12, "data": {"name": "loci"}, "transform": [{"filter": "datum.d == 'K'"}],
     "layer": [
      {"mark": {"type": "rect", "fill": "#d0d0d0", "stroke": "#4a4a4a", "strokeWidth": 1.2},
       "encoding": {"x": {"field": "a", "type": "quantitative", "scale": {"domain": [93, 501]}, "axis": null}, "x2": {"field": "b"}}},
      {"mark": {"type": "text", "align": "left", "baseline": "middle", "dx": 2, "font": "Liberation Serif", "fontSize": 10, "fontWeight": "bold", "color": "#111"},
       "encoding": {"x": {"field": "a", "type": "quantitative", "scale": {"domain": [93, 501]}, "axis": null}, "text": {"field": "n"}}}
     ]},
    {"width": 1028, "height": 136,
     "layer": [
      {"data": {"name": "bins"}, "transform": [{"filter": "datum.d == 'K'"}],
       "mark": {"type": "rule", "color": "#d6d6d6", "strokeWidth": 2.5},
       "encoding": {
        "x": {"field": "x", "type": "quantitative", "scale": {"domain": [93, 501]},
              "axis": {"orient": "top", "values": [100,150,200,250,300,350,400,450,500], "tickCount": 20, "labelExpr": "datum.value % 100 ? '' : datum.label", "title": null, "grid": false, "domain": false, "tickSize": 4, "tickColor": "#222", "labelFont": "Liberation Serif", "labelFontSize": 8, "labelColor": "#222", "labelPadding": 1, "labelFlush": false, "labelOverlap": false}},
        "y": {"datum": 0, "type": "quantitative", "scale": {"domain": [-3895, 6100]},
              "axis": {"values": [0,1000,2000,3000,4000,5000,6000], "tickCount": 20, "format": "d", "labelExpr": "datum.value % 2000 ? '' : datum.label", "grid": false, "domain": false, "tickSize": 4, "tickColor": "#222", "labelFont": "Liberation Serif", "labelFontSize": 8, "labelColor": "#222", "labelPadding": 2, "labelOverlap": false,
                       "title": "Mother", "titleAngle": 0, "titleAlign": "left", "titleBaseline": "middle", "titleX": -110, "titleY": -31, "titleFont": "Liberation Sans", "titleFontSize": 29, "titleFontWeight": "bold", "titleColor": "#ea1652"}},
        "y2": {"datum": 6100}}},
      {"data": {"values": [{}]},
       "mark": {"type": "rect", "filled": false, "color": "#222", "strokeWidth": 1},
       "encoding": {"x": {"datum": 93, "type": "quantitative", "scale": {"domain": [93, 501]}}, "x2": {"datum": 501},
                    "y": {"datum": 0, "type": "quantitative", "scale": {"domain": [-3895, 6100]}}, "y2": {"datum": 6100}}},
      {"data": {"name": "t6"},
       "mark": {"type": "line", "color": "#111111", "strokeWidth": 1.3, "clip": true},
       "encoding": {"x": {"field": "x", "type": "quantitative", "scale": {"domain": [93, 501]}},
                    "y": {"field": "y", "type": "quantitative", "scale": {"domain": [-3895, 6100]}}}},
      {"data": {"name": "a6"},
       "encoding": {"x": {"field": "x", "type": "quantitative", "scale": {"domain": [93, 501]}},
                    "y": {"datum": 0, "type": "quantitative", "scale": {"domain": [-3895, 6100]}}},
       "layer": [
        {"transform": [{"filter": "datum.r == 1"}], "mark": {"type": "rule", "color": "#111111", "y2Offset": 5}, "encoding": {"y2": {"datum": 0}}},
        {"transform": [{"filter": "datum.r == 2"}], "mark": {"type": "rule", "color": "#111111", "y2Offset": 19}, "encoding": {"y2": {"datum": 0}}},
        {"transform": [{"filter": "datum.r == 1"}], "mark": {"type": "point", "yOffset": 11, "size": 121, "filled": true, "fill": "white", "stroke": "#111111", "strokeWidth": 1, "opacity": 1},
         "encoding": {"shape": {"condition": [{"test": "length(datum.a) == 1", "value": "M-0.85,-1H0.85V1H-0.85Z"}, {"test": "length(datum.a) > 2", "value": "M-1.9,-1H1.9V1H-1.9Z"}], "value": "M-1.25,-1H1.25V1H-1.25Z"}}},
        {"transform": [{"filter": "datum.r == 2"}], "mark": {"type": "point", "yOffset": 25, "size": 121, "filled": true, "fill": "white", "stroke": "#111111", "strokeWidth": 1, "opacity": 1},
         "encoding": {"shape": {"condition": [{"test": "length(datum.a) == 1", "value": "M-0.85,-1H0.85V1H-0.85Z"}, {"test": "length(datum.a) > 2", "value": "M-1.9,-1H1.9V1H-1.9Z"}], "value": "M-1.25,-1H1.25V1H-1.25Z"}}},
        {"transform": [{"filter": "datum.r == 1"}], "mark": {"type": "text", "dy": 11, "baseline": "middle", "font": "Liberation Serif", "fontSize": 8, "color": "#222"}, "encoding": {"text": {"field": "a"}}},
        {"transform": [{"filter": "datum.r == 2"}], "mark": {"type": "text", "dy": 25, "baseline": "middle", "font": "Liberation Serif", "fontSize": 8, "color": "#222"}, "encoding": {"text": {"field": "a"}}}
       ]}
     ]},
    {"width": 1028, "height": 12, "data": {"name": "loci"}, "transform": [{"filter": "datum.d == 'R'"}],
     "layer": [
      {"mark": {"type": "rect", "fill": "#d0d0d0", "stroke": "#4a4a4a", "strokeWidth": 1.2},
       "encoding": {"x": {"field": "a", "type": "quantitative", "scale": {"domain": [93, 501]}, "axis": null}, "x2": {"field": "b"}}},
      {"mark": {"type": "text", "align": "left", "baseline": "middle", "dx": 2, "font": "Liberation Serif", "fontSize": 10, "fontWeight": "bold", "color": "#111"},
       "encoding": {"x": {"field": "a", "type": "quantitative", "scale": {"domain": [93, 501]}, "axis": null}, "text": {"field": "n"}}}
     ]},
    {"width": 1028, "height": 104,
     "layer": [
      {"data": {"name": "bins"}, "transform": [{"filter": "datum.d == 'R'"}],
       "mark": {"type": "rule", "color": "#d6d6d6", "strokeWidth": 2.5},
       "encoding": {
        "x": {"field": "x", "type": "quantitative", "scale": {"domain": [93, 501]},
              "axis": {"orient": "top", "values": [100,150,200,250,300,350,400,450,500], "tickCount": 20, "labelExpr": "datum.value % 100 ? '' : datum.label", "title": null, "grid": false, "domain": false, "tickSize": 4, "tickColor": "#222", "labelFont": "Liberation Serif", "labelFontSize": 8, "labelColor": "#222", "labelPadding": 1, "labelFlush": false, "labelOverlap": false}},
        "y": {"datum": 0, "type": "quantitative", "scale": {"domain": [-318, 5200]},
              "axis": {"values": [0,1000,2000,3000,4000,5000], "tickCount": 20, "format": "d", "labelExpr": "datum.value % 2000 ? '' : datum.label", "grid": false, "domain": false, "tickSize": 4, "tickColor": "#222", "labelFont": "Liberation Serif", "labelFontSize": 8, "labelColor": "#222", "labelPadding": 2, "labelOverlap": false,
                       "title": "Fetus", "titleAngle": 0, "titleAlign": "left", "titleBaseline": "middle", "titleX": -89, "titleY": -26, "titleFont": "Liberation Sans", "titleFontSize": 29, "titleFontWeight": "bold", "titleColor": "#2e4aa6"}},
        "y2": {"datum": 5200}}},
      {"data": {"values": [{}]},
       "mark": {"type": "rect", "filled": false, "color": "#222", "strokeWidth": 1},
       "encoding": {"x": {"datum": 93, "type": "quantitative", "scale": {"domain": [93, 501]}}, "x2": {"datum": 501},
                    "y": {"datum": 0, "type": "quantitative", "scale": {"domain": [-318, 5200]}}, "y2": {"datum": 5200}}},
      {"data": {"name": "t7"},
       "mark": {"type": "line", "color": "#e21b1b", "strokeWidth": 1.3, "clip": true},
       "encoding": {"x": {"field": "x", "type": "quantitative", "scale": {"domain": [93, 501]}},
                    "y": {"field": "y", "type": "quantitative", "scale": {"domain": [-318, 5200]}}}},
      {"data": {"name": "a7"},
       "encoding": {"x": {"field": "x", "type": "quantitative", "scale": {"domain": [93, 501]}},
                    "y": {"datum": 0, "type": "quantitative", "scale": {"domain": [-318, 5200]}}},
       "layer": [
        {"transform": [{"filter": "datum.r == 1"}], "mark": {"type": "rule", "color": "#e21b1b", "y2Offset": 5}, "encoding": {"y2": {"datum": 0}}},
        {"transform": [{"filter": "datum.r == 2"}], "mark": {"type": "rule", "color": "#e21b1b", "y2Offset": 19}, "encoding": {"y2": {"datum": 0}}},
        {"transform": [{"filter": "datum.r == 1"}], "mark": {"type": "point", "yOffset": 11, "size": 121, "filled": true, "fill": "white", "stroke": "#e21b1b", "strokeWidth": 1, "opacity": 1},
         "encoding": {"shape": {"condition": [{"test": "length(datum.a) == 1", "value": "M-0.85,-1H0.85V1H-0.85Z"}, {"test": "length(datum.a) > 2", "value": "M-1.9,-1H1.9V1H-1.9Z"}], "value": "M-1.25,-1H1.25V1H-1.25Z"}}},
        {"transform": [{"filter": "datum.r == 2"}], "mark": {"type": "point", "yOffset": 25, "size": 121, "filled": true, "fill": "white", "stroke": "#e21b1b", "strokeWidth": 1, "opacity": 1},
         "encoding": {"shape": {"condition": [{"test": "length(datum.a) == 1", "value": "M-0.85,-1H0.85V1H-0.85Z"}, {"test": "length(datum.a) > 2", "value": "M-1.9,-1H1.9V1H-1.9Z"}], "value": "M-1.25,-1H1.25V1H-1.25Z"}}},
        {"transform": [{"filter": "datum.r == 1"}], "mark": {"type": "text", "dy": 11, "baseline": "middle", "font": "Liberation Serif", "fontSize": 8, "color": "#222"}, "encoding": {"text": {"field": "a"}}},
        {"transform": [{"filter": "datum.r == 2"}], "mark": {"type": "text", "dy": 25, "baseline": "middle", "font": "Liberation Serif", "fontSize": 8, "color": "#222"}, "encoding": {"text": {"field": "a"}}}
       ]}
     ]},
    {"width": 1028, "height": 12, "data": {"name": "loci"}, "transform": [{"filter": "datum.d == 'R'"}],
     "layer": [
      {"mark": {"type": "rect", "fill": "#d0d0d0", "stroke": "#4a4a4a", "strokeWidth": 1.2},
       "encoding": {"x": {"field": "a", "type": "quantitative", "scale": {"domain": [93, 501]}, "axis": null}, "x2": {"field": "b"}}},
      {"mark": {"type": "text", "align": "left", "baseline": "middle", "dx": 2, "font": "Liberation Serif", "fontSize": 10, "fontWeight": "bold", "color": "#111"},
       "encoding": {"x": {"field": "a", "type": "quantitative", "scale": {"domain": [93, 501]}, "axis": null}, "text": {"field": "n"}}}
     ]},
    {"width": 1028, "height": 115,
     "layer": [
      {"data": {"name": "bins"}, "transform": [{"filter": "datum.d == 'R'"}],
       "mark": {"type": "rule", "color": "#d6d6d6", "strokeWidth": 2.5},
       "encoding": {
        "x": {"field": "x", "type": "quantitative", "scale": {"domain": [93, 501]},
              "axis": {"orient": "top", "values": [100,150,200,250,300,350,400,450,500], "tickCount": 20, "labelExpr": "datum.value % 100 ? '' : datum.label", "title": null, "grid": false, "domain": false, "tickSize": 4, "tickColor": "#222", "labelFont": "Liberation Serif", "labelFontSize": 8, "labelColor": "#222", "labelPadding": 1, "labelFlush": false, "labelOverlap": false}},
        "y": {"datum": 0, "type": "quantitative", "scale": {"domain": [-2657, 7200]},
              "axis": {"values": [0,1000,2000,3000,4000,5000,6000,7000], "tickCount": 20, "format": "d", "labelExpr": "datum.value % 2000 ? '' : datum.label", "grid": false, "domain": false, "tickSize": 4, "tickColor": "#222", "labelFont": "Liberation Serif", "labelFontSize": 8, "labelColor": "#222", "labelPadding": 2, "labelOverlap": false,
                       "title": "Mother", "titleAngle": 0, "titleAlign": "left", "titleBaseline": "middle", "titleX": -110, "titleY": -30, "titleFont": "Liberation Sans", "titleFontSize": 29, "titleFontWeight": "bold", "titleColor": "#ea1652"}},
        "y2": {"datum": 7200}}},
      {"data": {"values": [{}]},
       "mark": {"type": "rect", "filled": false, "color": "#222", "strokeWidth": 1},
       "encoding": {"x": {"datum": 93, "type": "quantitative", "scale": {"domain": [93, 501]}}, "x2": {"datum": 501},
                    "y": {"datum": 0, "type": "quantitative", "scale": {"domain": [-2657, 7200]}}, "y2": {"datum": 7200}}},
      {"data": {"name": "t8"},
       "mark": {"type": "line", "color": "#e21b1b", "strokeWidth": 1.3, "clip": true},
       "encoding": {"x": {"field": "x", "type": "quantitative", "scale": {"domain": [93, 501]}},
                    "y": {"field": "y", "type": "quantitative", "scale": {"domain": [-2657, 7200]}}}},
      {"data": {"name": "a8"},
       "encoding": {"x": {"field": "x", "type": "quantitative", "scale": {"domain": [93, 501]}},
                    "y": {"datum": 0, "type": "quantitative", "scale": {"domain": [-2657, 7200]}}},
       "layer": [
        {"transform": [{"filter": "datum.r == 1"}], "mark": {"type": "rule", "color": "#e21b1b", "y2Offset": 5}, "encoding": {"y2": {"datum": 0}}},
        {"transform": [{"filter": "datum.r == 2"}], "mark": {"type": "rule", "color": "#e21b1b", "y2Offset": 19}, "encoding": {"y2": {"datum": 0}}},
        {"transform": [{"filter": "datum.r == 1"}], "mark": {"type": "point", "yOffset": 11, "size": 121, "filled": true, "fill": "white", "stroke": "#e21b1b", "strokeWidth": 1, "opacity": 1},
         "encoding": {"shape": {"condition": [{"test": "length(datum.a) == 1", "value": "M-0.85,-1H0.85V1H-0.85Z"}, {"test": "length(datum.a) > 2", "value": "M-1.9,-1H1.9V1H-1.9Z"}], "value": "M-1.25,-1H1.25V1H-1.25Z"}}},
        {"transform": [{"filter": "datum.r == 2"}], "mark": {"type": "point", "yOffset": 25, "size": 121, "filled": true, "fill": "white", "stroke": "#e21b1b", "strokeWidth": 1, "opacity": 1},
         "encoding": {"shape": {"condition": [{"test": "length(datum.a) == 1", "value": "M-0.85,-1H0.85V1H-0.85Z"}, {"test": "length(datum.a) > 2", "value": "M-1.9,-1H1.9V1H-1.9Z"}], "value": "M-1.25,-1H1.25V1H-1.25Z"}}},
        {"transform": [{"filter": "datum.r == 1"}], "mark": {"type": "text", "dy": 11, "baseline": "middle", "font": "Liberation Serif", "fontSize": 8, "color": "#222"}, "encoding": {"text": {"field": "a"}}},
        {"transform": [{"filter": "datum.r == 2"}], "mark": {"type": "text", "dy": 25, "baseline": "middle", "font": "Liberation Serif", "fontSize": 8, "color": "#222"}, "encoding": {"text": {"field": "a"}}}
       ]}
     ]}
  ]
}
